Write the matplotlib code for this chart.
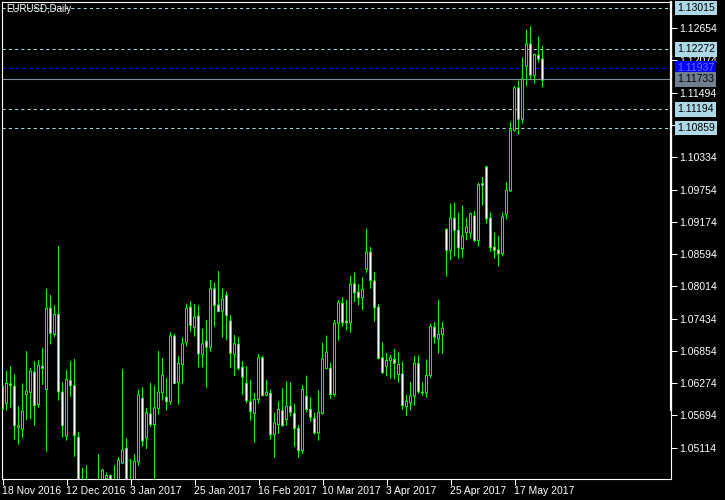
import matplotlib
matplotlib.use("Agg")
import matplotlib.pyplot as plt
from matplotlib.transforms import blended_transform_factory

# EURUSD daily candles, 18 Nov 2016 .. 26 May 2017
opens = [
    1.0622, 1.0591, 1.0626, 1.0622, 1.0548, 1.0545, 1.0607, 1.0611, 1.0647, 1.0589,
    1.0658, 1.0616, 1.0762, 1.0715, 1.0751, 1.0611, 1.0532, 1.0632, 1.0623, 1.0530,
    1.0410, 1.0449, 1.0417, 1.0411, 1.0429, 1.0432, 1.0456, 1.0461, 1.0447, 1.0444,
    1.0484, 1.0510, 1.0441, 1.0436, 1.0486, 1.0600, 1.0529, 1.0572, 1.0553, 1.0582,
    1.0610, 1.0602, 1.0594, 1.0712, 1.0629, 1.0661, 1.0701, 1.0764, 1.0728, 1.0748,
    1.0679, 1.0703, 1.0692, 1.0797, 1.0768, 1.0757, 1.0785, 1.0739, 1.0679, 1.0697,
    1.0656, 1.0627, 1.0594, 1.0573, 1.0598, 1.0673, 1.0606, 1.0609, 1.0535, 1.0553,
    1.0578, 1.0562, 1.0586, 1.0573, 1.0546, 1.0506, 1.0604, 1.0580, 1.0564, 1.0538,
    1.0573, 1.0654, 1.0654, 1.0607, 1.0735, 1.0771, 1.0739, 1.0736, 1.0806, 1.0791,
    1.0781, 1.0832, 1.0863, 1.0811, 1.0764, 1.0673, 1.0658, 1.0668, 1.0670, 1.0643,
    1.0644, 1.0585, 1.0592, 1.0604, 1.0663, 1.0611, 1.0610, 1.0641, 1.0728, 1.0707,
    1.0715, 1.0904, 1.0866, 1.0924, 1.0902, 1.0869, 1.0898, 1.0897, 1.0928, 1.0884,
    1.0986, 1.1016, 1.0924, 1.0872, 1.0867, 1.0860, 1.0931, 1.0973, 1.1082, 1.1158,
    1.1102, 1.1197, 1.1237, 1.1181, 1.1217, 1.1210,
]
highs = [
    1.0627, 1.0649, 1.0658, 1.0644, 1.0586, 1.0627, 1.0685, 1.0655, 1.0667, 1.0669,
    1.0691, 1.0797, 1.0786, 1.0768, 1.0874, 1.0629, 1.0651, 1.0667, 1.0671, 1.0540,
    1.0475, 1.0480, 1.0426, 1.0441, 1.0500, 1.0473, 1.0467, 1.0463, 1.0480, 1.0494,
    1.0653, 1.0529, 1.0491, 1.0500, 1.0615, 1.0620, 1.0583, 1.0628, 1.0623, 1.0685,
    1.0673, 1.0637, 1.0719, 1.0716, 1.0676, 1.0709, 1.0770, 1.0775, 1.0770, 1.0767,
    1.0725, 1.0741, 1.0813, 1.0808, 1.0829, 1.0797, 1.0792, 1.0750, 1.0714, 1.0710,
    1.0667, 1.0658, 1.0633, 1.0610, 1.0680, 1.0676, 1.0633, 1.0616, 1.0574, 1.0595,
    1.0619, 1.0631, 1.0629, 1.0590, 1.0552, 1.0624, 1.0641, 1.0602, 1.0574, 1.0615,
    1.0700, 1.0713, 1.0664, 1.0741, 1.0777, 1.0782, 1.0777, 1.0820, 1.0826, 1.0805,
    1.0818, 1.0905, 1.0872, 1.0827, 1.0770, 1.0701, 1.0682, 1.0678, 1.0689, 1.0683,
    1.0666, 1.0606, 1.0630, 1.0676, 1.0677, 1.0629, 1.0670, 1.0734, 1.0737, 1.0777,
    1.0737, 1.0905, 1.0950, 1.0952, 1.0934, 1.0947, 1.0925, 1.0934, 1.0937, 1.0988,
    1.0998, 1.1018, 1.0934, 1.0898, 1.0892, 1.0934, 1.0989, 1.1097, 1.1162, 1.1171,
    1.1213, 1.1263, 1.1268, 1.1220, 1.1250, 1.1234,
]
lows = [
    1.0579, 1.0578, 1.0583, 1.0526, 1.0517, 1.0529, 1.0561, 1.0563, 1.0551, 1.0583,
    1.0624, 1.0504, 1.0697, 1.0710, 1.0596, 1.0530, 1.0524, 1.0603, 1.0495, 1.0366,
    1.0405, 1.0405, 1.0366, 1.0405, 1.0411, 1.0423, 1.0441, 1.0429, 1.0423, 1.0438,
    1.0482, 1.0438, 1.0375, 1.0429, 1.0479, 1.0513, 1.0509, 1.0548, 1.0453, 1.0571,
    1.0596, 1.0578, 1.0589, 1.0626, 1.0589, 1.0625, 1.0693, 1.0720, 1.0711, 1.0656,
    1.0656, 1.0619, 1.0684, 1.0729, 1.0755, 1.0709, 1.0704, 1.0655, 1.0640, 1.0650,
    1.0606, 1.0591, 1.0560, 1.0520, 1.0591, 1.0604, 1.0604, 1.0526, 1.0493, 1.0536,
    1.0549, 1.0551, 1.0567, 1.0513, 1.0493, 1.0500, 1.0575, 1.0558, 1.0535, 1.0524,
    1.0571, 1.0652, 1.0599, 1.0603, 1.0704, 1.0729, 1.0723, 1.0718, 1.0773, 1.0767,
    1.0759, 1.0826, 1.0797, 1.0738, 1.0670, 1.0645, 1.0640, 1.0635, 1.0634, 1.0628,
    1.0579, 1.0569, 1.0578, 1.0587, 1.0608, 1.0605, 1.0601, 1.0636, 1.0698, 1.0680,
    1.0680, 1.0819, 1.0849, 1.0855, 1.0851, 1.0853, 1.0884, 1.0887, 1.0881, 1.0873,
    1.0947, 1.0914, 1.0863, 1.0851, 1.0837, 1.0855, 1.0922, 1.0971, 1.1079, 1.1074,
    1.1094, 1.1161, 1.1174, 1.1166, 1.1204, 1.1159,
]
closes = [
    1.0581, 1.0627, 1.0623, 1.0551, 1.0551, 1.0577, 1.0613, 1.0649, 1.0587, 1.0659,
    1.0654, 1.0762, 1.0717, 1.0751, 1.0612, 1.0551, 1.0634, 1.0623, 1.0533, 1.0410,
    1.0449, 1.0417, 1.0411, 1.0429, 1.0432, 1.0471, 1.0461, 1.0447, 1.0450, 1.0489,
    1.0507, 1.0441, 1.0436, 1.0487, 1.0606, 1.0523, 1.0574, 1.0553, 1.0583, 1.0611,
    1.0642, 1.0594, 1.0712, 1.0627, 1.0663, 1.0698, 1.0762, 1.0731, 1.0746, 1.0680,
    1.0698, 1.0692, 1.0797, 1.0767, 1.0756, 1.0778, 1.0749, 1.0681, 1.0698, 1.0654,
    1.0638, 1.0596, 1.0576, 1.0598, 1.0673, 1.0605, 1.0611, 1.0535, 1.0556, 1.0580,
    1.0551, 1.0586, 1.0575, 1.0546, 1.0506, 1.0616, 1.0580, 1.0566, 1.0538, 1.0575,
    1.0671, 1.0683, 1.0607, 1.0735, 1.0772, 1.0736, 1.0736, 1.0805, 1.0790, 1.0781,
    1.0796, 1.0863, 1.0812, 1.0763, 1.0672, 1.0646, 1.0668, 1.0673, 1.0663, 1.0661,
    1.0587, 1.0595, 1.0604, 1.0663, 1.0612, 1.0610, 1.0641, 1.0729, 1.0710, 1.0715,
    1.0726, 1.0866, 1.0924, 1.0902, 1.0871, 1.0892, 1.0908, 1.0932, 1.0884, 1.0984,
    1.0983, 1.0923, 1.0871, 1.0866, 1.0860, 1.0926, 1.0974, 1.1082, 1.1158, 1.1102,
    1.1174, 1.1237, 1.1181, 1.1218, 1.1210, 1.1172,
]

date_ticks = [0, 16, 32, 48, 64, 80, 96, 112, 128]
date_labels = ["18 Nov 2016", "12 Dec 2016", "3 Jan 2017", "25 Jan 2017",
               "16 Feb 2017", "10 Mar 2017", "3 Apr 2017", "25 Apr 2017",
               "17 May 2017"]

price_ticks = [1.05114, 1.05694, 1.06274, 1.06854, 1.07434, 1.08014, 1.08594,
               1.09174, 1.09754, 1.10334, 1.10914, 1.11494, 1.12074, 1.12654]

levels = [1.13015, 1.12272, 1.11194, 1.10859]   # dashed light blue lines
ask_price = 1.11937
bid_price = 1.11733

LIME = "#00FF00"
LEVEL_COL = "#ADD8E6"
FONT = ["Liberation Sans", "DejaVu Sans"]
FS = 7.5

# -----------------------------
# Figura
# -----------------------------
fig = plt.figure(figsize=(7.25, 5), dpi=100, facecolor="black")
ax = fig.add_axes([2 / 725, 21 / 500, 669 / 725, 477 / 500], facecolor="black")
# 4 px por vela, centro de cada vela en el centro de un pixel
ax.set_xlim(-0.125, 167.125)
ax.set_ylim(1.04551, 1.13125)
px_y = (1.13125 - 1.04551) / 477   # precio por pixel

x = list(range(len(opens)))

# mechas (sin snap para que queden centradas)
ax.vlines(x, lows, highs, color=LIME, linewidth=0.72, snap=False, zorder=2)

# cuerpos: contorno lima de 3 px, relleno interior de 1 px
# (alcista = negro, bajista = blanco)
bottoms = [min(o, c) - px_y / 2 for o, c in zip(opens, closes)]
heights = [abs(c - o) + px_y for o, c in zip(opens, closes)]
ax.bar(x, heights, bottom=bottoms, width=0.75, color=LIME, linewidth=0,
       snap=False, zorder=3)

xi, bi, hi, fi = [], [], [], []
for i, (o, c) in enumerate(zip(opens, closes)):
    h = abs(c - o) - px_y
    if h > 0:
        xi.append(i)
        bi.append(min(o, c) + px_y / 2)
        hi.append(h)
        fi.append("black" if c >= o else "white")
ax.bar(xi, hi, bottom=bi, width=0.25, color=fi, linewidth=0, snap=False, zorder=4)

# lineas horizontales
for lv in levels:
    ax.axhline(lv, color=LEVEL_COL, linewidth=0.75, linestyle=(0, (3, 3)), zorder=1)
ax.axhline(ask_price, color="#0000FF", linewidth=0.8, linestyle=(0, (3, 3)), zorder=1)
ax.axhline(bid_price, color="#8090A0", linewidth=0.8, zorder=1)

# bordes
for s in ax.spines.values():
    s.set_color("white")
    s.set_linewidth(0.8)
ax.plot([1.0, 1.0], [(479 - 410) / 477, 1.0], transform=ax.transAxes,
        color="white", linewidth=1.6, clip_on=False, zorder=5)

# ejes
ax.yaxis.tick_right()
ax.set_yticks(price_ticks)
ax.set_yticklabels([f"{v:.5f}" for v in price_ticks], family=FONT)
ax.tick_params(axis="y", colors="white", length=4, width=0.75, labelsize=FS, pad=2)

ax.set_xticks(date_ticks)
ax.set_xticklabels(date_labels, ha="left", family=FONT)
ax.tick_params(axis="x", colors="white", length=4, width=0.75, labelsize=FS, pad=1)

# etiquetas de precio
trans = blended_transform_factory(ax.transAxes, ax.transData)

def price_box(val, bg, fg):
    ax.text(1.0 + 6 / 669, val, f"{val:.5f}", transform=trans, ha="left",
            va="center", fontsize=FS, family=FONT, color=fg, clip_on=False,
            zorder=10, bbox=dict(boxstyle="square,pad=0.2", fc=bg, ec="none"))

for lv in levels:
    price_box(lv, LEVEL_COL, "black")
price_box(ask_price, "#0000FF", "#7070FF")
price_box(bid_price, "#708090", "black")

fig.text(6 / 725, 1 - 4 / 500, "EURUSD,Daily", ha="left", va="top",
         color="white", fontsize=7, family=FONT)

fig.savefig("out.png", dpi=100, facecolor="black")
